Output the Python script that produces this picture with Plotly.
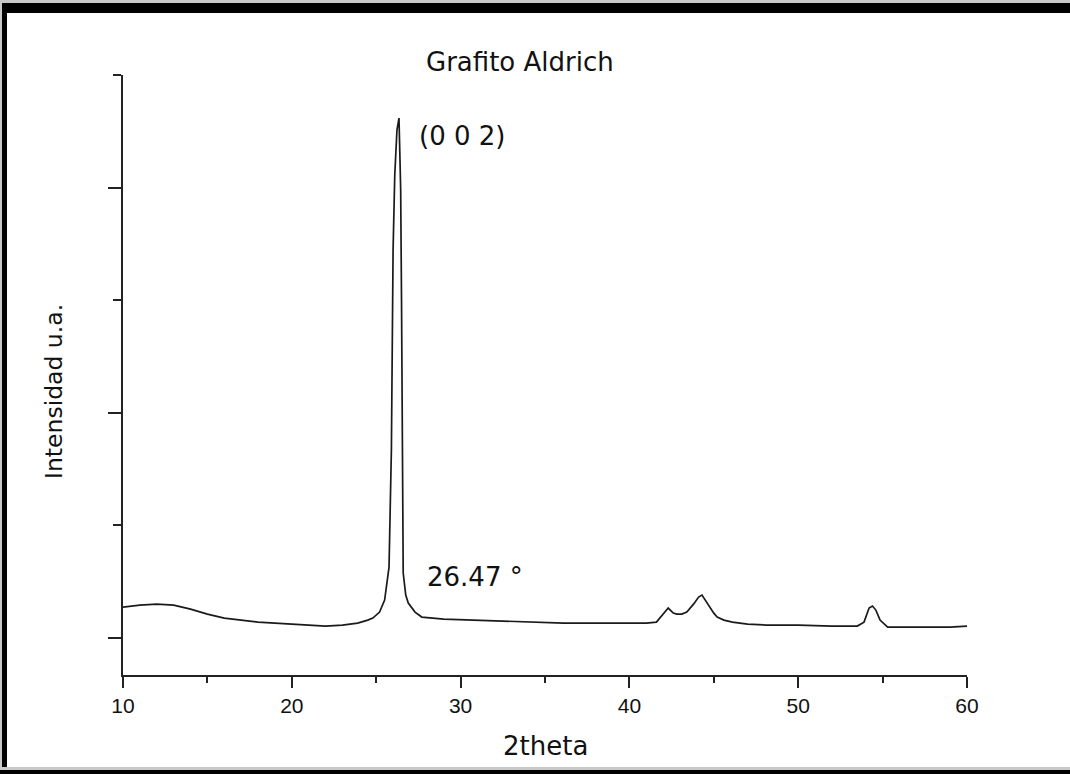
import plotly.graph_objects as go

# ---- data (2theta in degrees, intensity in arbitrary units) ----
two_theta = [10, 11, 12, 13, 14, 15, 16, 17, 18, 19, 20, 21, 22, 23, 23.9, 24.5, 24.8, 25.2,
             25.5, 25.76, 25.9, 26.0, 26.1, 26.23, 26.35, 26.41, 26.45, 26.5, 26.55, 26.6,
             26.75, 26.9, 27.3, 27.7, 29.0, 31.0, 33.3, 36.1, 38.3, 40.0, 41.0, 41.6, 42.0,
             42.3, 42.6, 42.8, 43.1, 43.4, 43.8, 44.1, 44.3, 44.6, 45.0, 45.2, 45.6, 46.1,
             47.0, 48.1, 50.0, 52.0, 53.5, 53.9, 54.2, 54.4, 54.6, 54.85, 55.3, 57.0, 59.0, 60.0]
intensity = [271, 288, 297, 288, 253, 208, 173, 155, 137, 128, 120, 111, 102, 111, 128, 155, 173, 226,
             333, 626, 1666, 3444, 4111, 4511, 4617, 4244, 3977, 3000, 1666, 573,
             377, 306, 226, 182, 164, 155, 146, 128, 128, 128, 128, 137, 208,
             262, 217, 208, 208, 226, 297, 360, 377, 306, 217, 182, 155, 137,
             120, 111, 111, 102, 102, 137, 262, 280, 244, 155, 93, 93, 93, 102]

x_range = [10, 60]
y_range = [-333, 5000]
x_major = [10, 20, 30, 40, 50, 60]
y_major = [0, 2000, 4000]

title_text = "Grafito Aldrich"
x_title = "2theta"
y_title = "Intensidad u.a."
peak_label = "(0 0 2)"
angle_label = "26.47 °"

W, H = 1070, 774
L, R, T, B = 123, 103, 75, 99
PW, PH = W - L - R, H - T - B


def px(xp):
    return (xp - L) / PW


def py(yp):
    return (H - B - yp) / PH


fig = go.Figure()
fig.add_trace(go.Scatter(x=two_theta, y=intensity, mode="lines",
                         line=dict(color="#1a1a1a", width=1.7), showlegend=False,
                         hoverinfo="skip"))

axis_font = dict(family="Liberation Sans, Arial, sans-serif", size=21, color="#111111")
fig.update_layout(
    width=W, height=H,
    margin=dict(l=L, r=R, t=T, b=B, pad=0),
    paper_bgcolor="white", plot_bgcolor="white",
    showlegend=False,
    xaxis=dict(range=x_range, tickvals=x_major, ticks="outside", ticklen=11, tickwidth=1.5,
               tickcolor="#222", showline=True, linecolor="#222", linewidth=2,
               showgrid=False, zeroline=False, tickfont=axis_font,
               minor=dict(dtick=5, tick0=0, ticks="outside", ticklen=6, tickwidth=1.5,
                          tickcolor="#222", showgrid=False)),
    yaxis=dict(range=y_range, tickvals=y_major, ticks="outside", ticklen=13, tickwidth=1.5,
               tickcolor="#222", showline=True, linecolor="#222", linewidth=2,
               showgrid=False, zeroline=False, showticklabels=False,
               minor=dict(tickvals=[1000, 3000, 4999], ticks="outside", ticklen=8,
                          tickwidth=1.5, tickcolor="#222", showgrid=False)),
)

text_font = dict(family="DejaVu Sans, Arial, sans-serif", color="#111111")
ann = [
    dict(text=title_text, x=px(520), y=py(62), size=26),
    dict(text=peak_label, x=px(462), y=py(136), size=26),
    dict(text=angle_label, x=px(475), y=py(577), size=26),
    dict(text=x_title, x=px(545), y=py(746), size=26),
]
for a in ann:
    fig.add_annotation(text=a["text"], x=a["x"], y=a["y"], xref="paper", yref="paper",
                       xanchor="center", yanchor="middle", showarrow=False,
                       font=dict(size=a["size"], **text_font))
fig.add_annotation(text=y_title, x=px(54), y=py(392), xref="paper", yref="paper",
                   xanchor="center", yanchor="middle", showarrow=False, textangle=-90,
                   font=dict(size=23.5, **text_font))

# outer frame (gray hairline + black band) as seen in the reference
frame = [
    (0, 0, W, 3, "#c8c8c8"), (0, 3, W, 13, "black"),
    (0, 0, 2, H, "#c8c8c8"), (2, 3, 7, H, "black"),
    (0, 767, W, 770, "#c8c8c8"), (0, 770, W, H, "black"),
]
for x0, y0, x1, y1, c in frame:
    fig.add_shape(type="rect", xref="paper", yref="paper",
                  x0=px(x0), x1=px(x1), y0=py(y1), y1=py(y0),
                  fillcolor=c, line=dict(width=0), layer="above")

fig.write_html("out.html")
